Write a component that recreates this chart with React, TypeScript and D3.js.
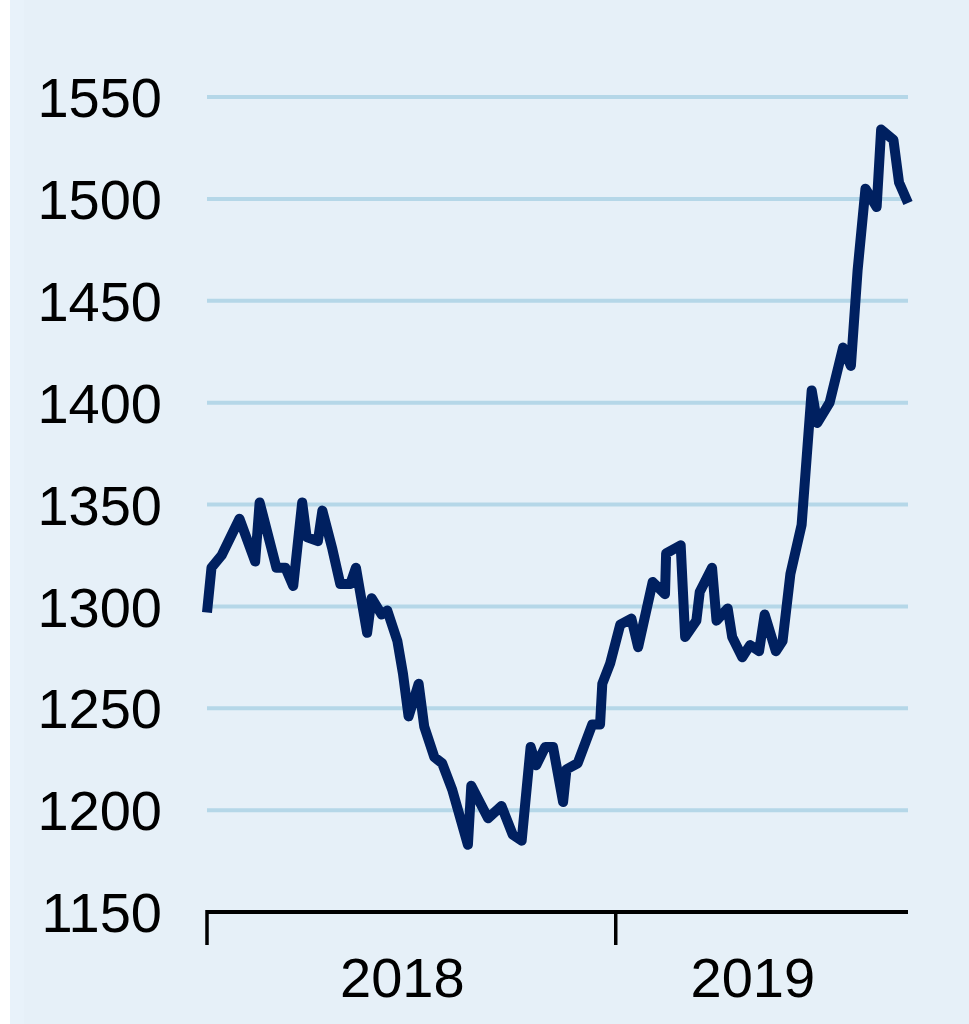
import React from "react";
import * as d3 from "d3";

const dates: string[] = [
  "2018-01-01","2018-01-05","2018-01-14","2018-01-30","2018-02-13","2018-02-17","2018-03-04","2018-03-12",
  "2018-03-19","2018-03-27","2018-03-31","2018-04-10","2018-04-14","2018-04-23","2018-04-30","2018-05-09",
  "2018-05-14","2018-05-24","2018-05-28","2018-06-06","2018-06-11","2018-06-20","2018-06-25","2018-06-30",
  "2018-07-09","2018-07-14","2018-07-23","2018-07-30","2018-08-08","2018-08-22","2018-08-25","2018-09-09",
  "2018-09-21","2018-10-01","2018-10-09","2018-10-17","2018-10-22","2018-10-30","2018-11-06","2018-11-15",
  "2018-11-18","2018-11-28","2018-12-11","2018-12-18","2018-12-20","2018-12-27","2019-01-05","2019-01-15",
  "2019-01-21","2019-02-03","2019-02-14","2019-02-15","2019-02-28","2019-03-04","2019-03-14","2019-03-17",
  "2019-03-28","2019-04-01","2019-04-11","2019-04-15","2019-04-24","2019-05-01","2019-05-09","2019-05-14",
  "2019-05-24","2019-05-30","2019-06-06","2019-06-16","2019-06-25","2019-06-30","2019-07-11","2019-07-23",
  "2019-07-30","2019-08-05","2019-08-12","2019-08-22","2019-08-26","2019-09-06","2019-09-11","2019-09-19",
];

const prices: number[] = [
  1297,1319,1325,1343,1322,1351,1319,1319,
  1310,1351,1334,1332,1347,1328,1311,1311,
  1319,1287,1304,1296,1298,1283,1267,1246,
  1262,1241,1226,1223,1210,1183,1212,1196,
  1202,1188,1185,1231,1222,1231,1231,1204,
  1220,1223,1242,1242,1262,1272,1291,1294,
  1280,1312,1306,1326,1330,1285,1293,1307,
  1319,1293,1299,1285,1275,1281,1278,1296,
  1278,1283,1316,1340,1406,1390,1400,1427,
  1418,1465,1505,1496,1534,1529,1508,1498,
];

const yTicks: number[] = [1150, 1200, 1250, 1300, 1350, 1400, 1450, 1500, 1550];
const yearLabels: string[] = ["2018", "2019"];
const yearStarts: string[] = ["2018-01-01", "2019-01-01"];
const domainEnd = "2019-09-19";

export default function App() {
  const W = 969, H = 1024;
  const x0 = 207, x1 = 908;
  const parse = d3.timeParse("%Y-%m-%d");
  const x = d3.scaleTime().domain([parse(dates[0])!, parse(domainEnd)!]).range([x0, x1]);
  const y = d3.scaleLinear().domain([1150, 1550]).range([912, 97]);
  const pts = dates.map((d, i) => [x(parse(d)!), y(prices[i])] as [number, number]);
  const line = d3.line<[number, number]>().x(p => p[0]).y(p => p[1]);
  const font = "'Liberation Sans', Arial, sans-serif";
  const starts = yearStarts.map(s => x(parse(s)!));
  const ends = [starts[1], x1];
  return (
    <svg width={W} height={H} style={{ position: "absolute", left: 0, top: 0 }}>
      <rect x={0} y={0} width={W} height={H} fill="#ffffff" />
      <rect x={10} y={0} width={W - 10} height={H} fill="#e6f0f8" />
      <rect x={10} y={0} width={14} height={H} fill="#e8f2fa" />
      {yTicks.filter(t => t !== 1150).map(t => (
        <line key={t} x1={x0} x2={x1} y1={y(t)} y2={y(t)} stroke="#b5d7e8" strokeWidth={4} />
      ))}
      {yTicks.map(t => (
        <text key={"l" + t} x={162} y={y(t)} dy="0.36em" textAnchor="end" fontFamily={font} fontSize={56} fill="#000">{t}</text>
      ))}
      <path d={line(pts) || ""} fill="none" stroke="#002060" strokeWidth={10} strokeLinejoin="round" strokeLinecap="butt" />
      <line x1={x0} x2={x1} y1={y(1150)} y2={y(1150)} stroke="#000" strokeWidth={4} />
      {starts.map((s, i) => (
        <line key={"t" + i} x1={s} x2={s} y1={y(1150) - 2} y2={945} stroke="#000" strokeWidth={3.5} />
      ))}
      {yearLabels.map((lab, i) => (
        <text key={lab} x={(starts[i] + ends[i]) / 2 - 9} y={997} textAnchor="middle" fontFamily={font} fontSize={56} fill="#000">{lab}</text>
      ))}
    </svg>
  );
}
